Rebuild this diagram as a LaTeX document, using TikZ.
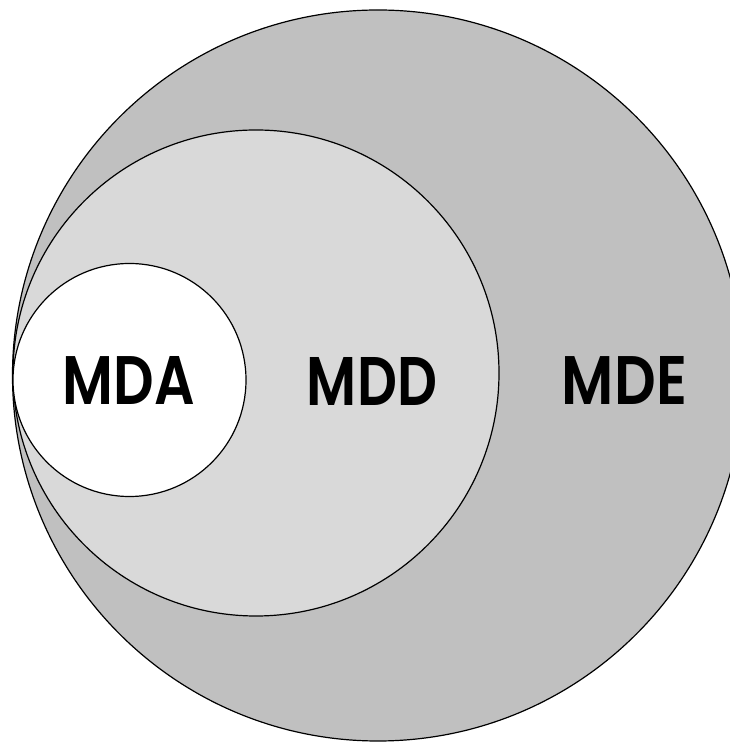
\documentclass[tikz,border=0pt]{standalone}
\usepackage{fontspec}
\setmainfont{Poppins}[BoldFont={Poppins SemiBold}]
\definecolor{outerfill}{HTML}{C0C0C0}
\definecolor{midfill}{HTML}{D9D9D9}
\tikzset{
  ring/.style={circle, draw=black, line width=1.2pt, inner sep=0pt},
  lbl/.style={inner sep=0pt, text=black},
}
\newcommand{\lbltext}[2]{\resizebox{#1}{48pt}{\bfseries #2}}
\begin{document}
\begin{tikzpicture}[x=1pt,y=1pt]
\useasboundingbox (0,0) rectangle (730,744);
\fill[white] (0,0) rectangle (730,744);
\clip (0,0) rectangle (730,744);
\node[ring, fill=outerfill, minimum size=731pt] (mde) at (378,368.5) {};
\node[ring, fill=midfill, minimum size=486pt] (mdd) at (256,371) {};
\node[ring, fill=white, minimum size=233pt] (mda) at (129.5,364) {};
\node[lbl] (tmda) at (129,363) {\lbltext{132pt}{MDA}};
\node[lbl] (tmdd) at (372,363) {\lbltext{130pt}{MDD}};
\node[lbl] (tmde) at (624.5,363) {\lbltext{125pt}{MDE}};
\end{tikzpicture}
\end{document}
